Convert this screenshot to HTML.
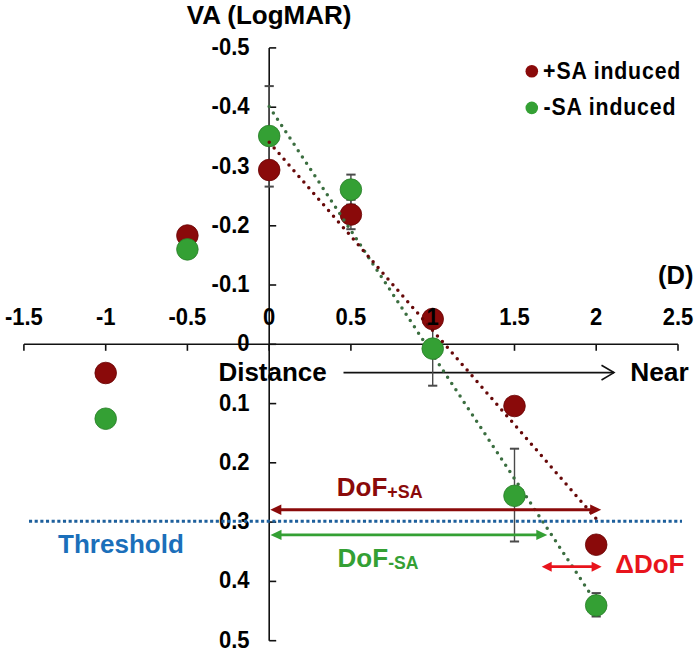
<!DOCTYPE html>
<html><head><meta charset="utf-8"><style>
html,body{margin:0;padding:0;background:#fff;overflow:hidden;width:700px;height:654px;}
svg{display:block;}
</style></head><body>
<svg width="700" height="654" viewBox="0 0 700 654">
<rect width="700" height="654" fill="#fff"/>
<g stroke="#111" stroke-width="1.6" fill="none">
<line x1="269.2" y1="47.94999999999999" x2="269.2" y2="640.6500000000001"/>
<line x1="269.2" y1="47.9" x2="276.2" y2="47.9"/>
<line x1="269.2" y1="107.2" x2="276.2" y2="107.2"/>
<line x1="269.2" y1="166.5" x2="276.2" y2="166.5"/>
<line x1="269.2" y1="225.8" x2="276.2" y2="225.8"/>
<line x1="269.2" y1="285.0" x2="276.2" y2="285.0"/>
<line x1="269.2" y1="344.3" x2="276.2" y2="344.3"/>
<line x1="269.2" y1="403.6" x2="276.2" y2="403.6"/>
<line x1="269.2" y1="462.8" x2="276.2" y2="462.8"/>
<line x1="269.2" y1="522.1" x2="276.2" y2="522.1"/>
<line x1="269.2" y1="581.4" x2="276.2" y2="581.4"/>
<line x1="269.2" y1="640.7" x2="276.2" y2="640.7"/>
<line x1="23.94999999999999" y1="344.3" x2="677.95" y2="344.3"/>
<line x1="23.9" y1="344.3" x2="23.9" y2="350.8"/>
<line x1="105.7" y1="344.3" x2="105.7" y2="350.8"/>
<line x1="187.4" y1="344.3" x2="187.4" y2="350.8"/>
<line x1="269.2" y1="344.3" x2="269.2" y2="350.8"/>
<line x1="350.9" y1="344.3" x2="350.9" y2="350.8"/>
<line x1="432.7" y1="344.3" x2="432.7" y2="350.8"/>
<line x1="514.5" y1="344.3" x2="514.5" y2="350.8"/>
<line x1="596.2" y1="344.3" x2="596.2" y2="350.8"/>
<line x1="678.0" y1="344.3" x2="678.0" y2="350.8"/>
</g>
<g stroke="#111" stroke-width="1.6" fill="none"><line x1="343.5" y1="372.6" x2="614" y2="372.6"/><polyline points="601.5,365.2 614,372.6 601.5,380"/></g>
<g stroke="#4a4a4a">
<line x1="269.2" y1="86.1" x2="269.2" y2="186.6" stroke-width="1.4"/><line x1="264.6" y1="86.1" x2="273.8" y2="86.1" stroke-width="2"/><line x1="264.6" y1="186.6" x2="273.8" y2="186.6" stroke-width="2"/>
<line x1="350.9" y1="174.6" x2="350.9" y2="204.6" stroke-width="1.4"/><line x1="346.3" y1="174.6" x2="355.6" y2="174.6" stroke-width="2"/><line x1="346.3" y1="204.6" x2="355.6" y2="204.6" stroke-width="2"/>
<line x1="350.9" y1="199.8" x2="350.9" y2="229.2" stroke-width="1.4"/><line x1="346.3" y1="199.8" x2="355.6" y2="199.8" stroke-width="2"/><line x1="346.3" y1="229.2" x2="355.6" y2="229.2" stroke-width="2"/>
<line x1="432.7" y1="311.6" x2="432.7" y2="385.7" stroke-width="1.4"/><line x1="428.1" y1="311.6" x2="437.3" y2="311.6" stroke-width="2"/><line x1="428.1" y1="385.7" x2="437.3" y2="385.7" stroke-width="2"/>
<line x1="514.5" y1="448.7" x2="514.5" y2="541.5" stroke-width="1.4"/><line x1="509.9" y1="448.7" x2="519.1" y2="448.7" stroke-width="2"/><line x1="509.9" y1="541.5" x2="519.1" y2="541.5" stroke-width="2"/>
<line x1="596.2" y1="593.1" x2="596.2" y2="616.5" stroke-width="1.4"/><line x1="591.6" y1="593.1" x2="600.8" y2="593.1" stroke-width="2"/><line x1="591.6" y1="616.5" x2="600.8" y2="616.5" stroke-width="2"/>
</g>
<circle cx="105.7" cy="373" r="10.8" fill="#8a0a0a" stroke="#6a0505" stroke-width="0.8"/>
<circle cx="187.4" cy="235.5" r="10.8" fill="#8a0a0a" stroke="#6a0505" stroke-width="0.8"/>
<circle cx="269.2" cy="170" r="10.8" fill="#8a0a0a" stroke="#6a0505" stroke-width="0.8"/>
<circle cx="350.9" cy="214.5" r="10.8" fill="#8a0a0a" stroke="#6a0505" stroke-width="0.8"/>
<circle cx="432.7" cy="319" r="10.8" fill="#8a0a0a" stroke="#6a0505" stroke-width="0.8"/>
<circle cx="514.5" cy="406" r="10.8" fill="#8a0a0a" stroke="#6a0505" stroke-width="0.8"/>
<circle cx="596.2" cy="544.7" r="10.8" fill="#8a0a0a" stroke="#6a0505" stroke-width="0.8"/>
<line x1="269.2" y1="106.6" x2="594" y2="599.3" stroke="#3b6e40" stroke-width="3.5" stroke-linecap="round" stroke-dasharray="0 7.538"/>
<circle cx="105.7" cy="418.7" r="10.8" fill="#34a034" stroke="#2a7d2a" stroke-width="0.8"/>
<circle cx="187.4" cy="249.4" r="10.8" fill="#34a034" stroke="#2a7d2a" stroke-width="0.8"/>
<circle cx="269.2" cy="136" r="10.8" fill="#34a034" stroke="#2a7d2a" stroke-width="0.8"/>
<circle cx="350.9" cy="189.6" r="10.8" fill="#34a034" stroke="#2a7d2a" stroke-width="0.8"/>
<circle cx="432.7" cy="348.6" r="10.8" fill="#34a034" stroke="#2a7d2a" stroke-width="0.8"/>
<circle cx="514.5" cy="495.8" r="10.8" fill="#34a034" stroke="#2a7d2a" stroke-width="0.8"/>
<circle cx="596.2" cy="605.4" r="10.8" fill="#34a034" stroke="#2a7d2a" stroke-width="0.8"/>
<line x1="269.2" y1="142.2" x2="596" y2="518.5" stroke="#660808" stroke-width="3.5" stroke-linecap="round" stroke-dasharray="0 7.546"/>
<line x1="280.3" y1="509.7" x2="591.2" y2="509.7" stroke="#8a0a0a" stroke-width="3.1"/><polygon points="270.3,509.7 281.3,504.5 281.3,514.9" fill="#8a0a0a"/><polygon points="601.2,509.7 590.2,504.5 590.2,514.9" fill="#8a0a0a"/>
<line x1="280.5" y1="534.9" x2="537.3" y2="534.9" stroke="#34a034" stroke-width="2.8"/><polygon points="270.5,534.9 281.5,529.6999999999999 281.5,540.1" fill="#34a034"/><polygon points="547.3,534.9 536.3,529.6999999999999 536.3,540.1" fill="#34a034"/>
<line x1="550.7" y1="566.7" x2="592.6" y2="566.7" stroke="#e8141c" stroke-width="2.8"/><polygon points="541.7,566.7 551.7,561.7 551.7,571.7" fill="#e8141c"/><polygon points="601.6,566.7 591.6,561.7 591.6,571.7" fill="#e8141c"/>
<g font-family="Liberation Sans, sans-serif" font-weight="bold">
<text x="186.8" y="23.5" font-size="26" text-anchor="start" fill="#000" >VA (LogMAR)</text>
<text transform="translate(249.5,54.9) scale(1,1.09)" font-size="22" text-anchor="end" fill="#000" >-0.5</text>
<text transform="translate(249.5,114.2) scale(1,1.09)" font-size="22" text-anchor="end" fill="#000" >-0.4</text>
<text transform="translate(249.5,173.5) scale(1,1.09)" font-size="22" text-anchor="end" fill="#000" >-0.3</text>
<text transform="translate(249.5,232.8) scale(1,1.09)" font-size="22" text-anchor="end" fill="#000" >-0.2</text>
<text transform="translate(249.5,292.0) scale(1,1.09)" font-size="22" text-anchor="end" fill="#000" >-0.1</text>
<text transform="translate(249.5,351.3) scale(1,1.09)" font-size="22" text-anchor="end" fill="#000" >0</text>
<text transform="translate(249.5,410.6) scale(1,1.09)" font-size="22" text-anchor="end" fill="#000" >0.1</text>
<text transform="translate(249.5,469.8) scale(1,1.09)" font-size="22" text-anchor="end" fill="#000" >0.2</text>
<text transform="translate(249.5,529.1) scale(1,1.09)" font-size="22" text-anchor="end" fill="#000" >0.3</text>
<text transform="translate(249.5,588.4) scale(1,1.09)" font-size="22" text-anchor="end" fill="#000" >0.4</text>
<text transform="translate(249.5,647.7) scale(1,1.09)" font-size="22" text-anchor="end" fill="#000" >0.5</text>
<text transform="translate(23.9,324.6) scale(1,1.09)" font-size="22" text-anchor="middle" fill="#000" >-1.5</text>
<text transform="translate(105.7,324.6) scale(1,1.09)" font-size="22" text-anchor="middle" fill="#000" >-1</text>
<text transform="translate(187.4,324.6) scale(1,1.09)" font-size="22" text-anchor="middle" fill="#000" >-0.5</text>
<text transform="translate(269.2,324.6) scale(1,1.09)" font-size="22" text-anchor="middle" fill="#000" >0</text>
<text transform="translate(350.9,324.6) scale(1,1.09)" font-size="22" text-anchor="middle" fill="#000" >0.5</text>
<text transform="translate(432.7,324.6) scale(1,1.09)" font-size="22" text-anchor="middle" fill="#000" >1</text>
<text transform="translate(514.5,324.6) scale(1,1.09)" font-size="22" text-anchor="middle" fill="#000" >1.5</text>
<text transform="translate(596.2,324.6) scale(1,1.09)" font-size="22" text-anchor="middle" fill="#000" >2</text>
<text transform="translate(678.0,324.6) scale(1,1.09)" font-size="22" text-anchor="middle" fill="#000" >2.5</text>
<text x="658.1" y="283.5" font-size="25.5" text-anchor="start" fill="#000" >(D)</text>
<text x="218.4" y="380.6" font-size="26" text-anchor="start" fill="#000" >Distance</text>
<text x="630.2" y="381.1" font-size="26.3" text-anchor="start" fill="#000" >Near</text>
<text x="58.1" y="552.6" font-size="26" text-anchor="start" fill="#1b6fba" >Threshold</text>
<text x="615.2" y="572.8" font-size="26" text-anchor="start" fill="#e8141c" >&#916;DoF</text>
<text x="336.8" y="496.4" font-size="26" fill="#8a0a0a">DoF<tspan font-size="17.9" dy="1.7">+SA</tspan></text>
<text x="337.6" y="566.8" font-size="26" fill="#34a034">DoF<tspan font-size="17.6" dy="2.3">-SA</tspan></text>
<circle cx="531.8" cy="71.3" r="6.3" fill="#8a0a0a"/>
<circle cx="531.8" cy="107.9" r="6.3" fill="#34a034"/>
<text transform="translate(543.1,78.7) scale(1,1.08)" font-size="21.3" text-anchor="start" fill="#000" letter-spacing="0.85">+SA induced</text>
<text transform="translate(543.6,114.6) scale(1,1.08)" font-size="21.3" text-anchor="start" fill="#000" letter-spacing="0.85">-SA induced</text>
</g>
<line x1="29.0" y1="521.2" x2="682" y2="521.2" stroke="#1d5f9c" stroke-width="3.1" stroke-dasharray="3.1 2.56"/>
</svg>
</body></html>
